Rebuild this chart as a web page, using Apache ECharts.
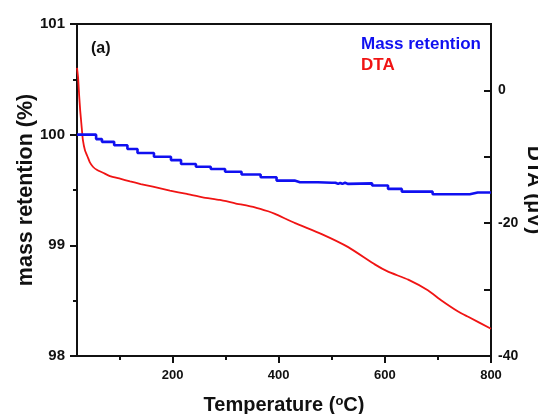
<!DOCTYPE html>
<html>
<head>
<meta charset="utf-8">
<script src="https://cdn.jsdelivr.net/npm/echarts@6/dist/echarts.min.js"></script>
<style>
html,body{margin:0;padding:0;background:#fff;}
#c{width:538px;height:414px;}
</style>
</head>
<body>
<div id="c"></div>
<script>
// ---- data ----
var massTemp = [20, 56, 67, 90, 115, 134, 165, 197, 216, 244, 272, 299, 330, 366, 396,
  430, 440, 443, 452, 455, 463, 466, 474, 477, 500, 503, 507, 512, 516, 520, 525, 530,
  576, 590, 593, 600, 603, 606, 615, 618, 622, 625, 632, 655, 657, 690, 700, 703, 710, 712,
  760, 775, 778, 785, 788, 800];
var massValue = [100.00, 99.96, 99.935, 99.905, 99.87, 99.835, 99.80, 99.77, 99.735, 99.71, 99.69, 99.665, 99.64, 99.615, 99.585,
  99.57, 99.555, 99.57, 99.555, 99.57, 99.555, 99.57, 99.555, 99.565, 99.555, 99.565, 99.555, 99.565, 99.555, 99.565, 99.555, 99.56,
  99.54, 99.55, 99.54, 99.55, 99.54, 99.51, 99.52, 99.51, 99.52, 99.51, 99.485, 99.495, 99.485, 99.462, 99.472, 99.462, 99.472, 99.462,
  99.477, 99.485, 99.477, 99.485, 99.477, 99.478];

var dtaTemp = [20, 22, 24, 26, 29, 31, 35, 41, 44, 50, 58, 69, 82, 101, 120, 140, 163, 195, 227, 257, 289, 318, 355, 380, 393,
  431, 480, 531, 581, 606, 644, 681, 706, 738, 757, 800];
var dtaValue = [3.4, 2.0, -0.7, -3.0, -5.7, -7.4, -9.0, -10.2, -10.8, -11.5, -12.0, -12.4, -12.9, -13.3, -13.7, -14.1, -14.5, -15.1, -15.6, -16.1, -16.5, -17.0, -17.6, -18.2, -18.6,
  -20.0, -21.6, -23.6, -26.2, -27.3, -28.5, -30.1, -31.6, -33.3, -34.1, -35.9];

var xMajorTicks = [200, 400, 600, 800];
var xMinorTicks = [100, 300, 500, 700];
var seriesNames = ['Mass retention', 'DTA'];

// ---- build ----
function pairs(xs, ys) { return xs.map(function (x, i) { return [x, ys[i]]; }); }

var FONT = "'Liberation Sans', Arial, sans-serif";
var INK = '#111';
var BLUE = '#1010f0';
var RED = '#f01414';

var chart = echarts.init(document.getElementById('c'), null, {renderer: 'canvas'});
chart.setOption({
  animation: false,
  backgroundColor: '#fff',
  textStyle: {fontFamily: FONT},
  grid: {left: 77, right: 47, top: 24, bottom: 58, show: true, borderColor: INK, borderWidth: 2,
    backgroundColor: 'transparent', containLabel: false, outerBoundsMode: 'none'},
  legend: {
    orient: 'vertical', left: 351, top: 31, itemGap: 4, itemWidth: 0, itemHeight: 0,
    selectedMode: false,
    data: [
      {name: seriesNames[0], icon: 'rect', textStyle: {color: BLUE}},
      {name: seriesNames[1], icon: 'rect', textStyle: {color: RED}}
    ],
    textStyle: {fontSize: 17, fontWeight: 'bold', fontFamily: FONT}
  },
  graphic: [{type: 'text', left: 91, top: 41, style: {text: '(a)', font: 'bold 16px ' + FONT, fill: INK}}],
  xAxis: [{
    type: 'value', min: 20, max: 800, position: 'bottom',
    axisLine: {onZero: false, lineStyle: {color: INK, width: 2}},
    axisTick: {customValues: xMajorTicks, length: 7, lineStyle: {color: INK, width: 2}},
    axisLabel: {customValues: xMajorTicks, fontSize: 13, fontWeight: 'bold', color: INK, margin: 13, fontFamily: FONT},
    splitLine: {show: false},
    name: 'Temperature ({sup|o}C)', nameLocation: 'middle', nameGap: 39,
    nameTextStyle: {fontSize: 20, fontWeight: 'bold', color: INK, fontFamily: FONT,
      rich: {sup: {fontSize: 13, fontWeight: 'bold', color: INK, fontFamily: FONT, verticalAlign: 'top', lineHeight: 12}}}
  }, {
    type: 'value', min: 20, max: 800, position: 'bottom',
    axisLine: {show: false, onZero: false},
    axisTick: {customValues: xMinorTicks, length: 4, lineStyle: {color: INK, width: 2}},
    axisLabel: {show: false},
    splitLine: {show: false}
  }],
  yAxis: [{
    type: 'value', min: 98, max: 101, interval: 1, position: 'left',
    axisLine: {show: true, onZero: false, lineStyle: {color: INK, width: 2}},
    axisTick: {show: true, length: 7, lineStyle: {color: INK, width: 2}},
    minorTick: {show: true, splitNumber: 2, length: 4, lineStyle: {color: INK, width: 2}},
    axisLabel: {fontSize: 15, fontWeight: 'bold', color: INK, margin: 12, fontFamily: FONT},
    splitLine: {show: false},
    name: 'mass retention (%)', nameLocation: 'middle', nameGap: 40, nameRotate: 90, nameMoveOverlap: false,
    nameTextStyle: {fontSize: 21.5, fontWeight: 'bold', color: INK, fontFamily: FONT}
  }, {
    type: 'value', min: -40, max: 10, interval: 10, position: 'right',
    axisLine: {show: true, onZero: false, lineStyle: {color: INK, width: 2}},
    axisTick: {show: true, inside: true, length: 7, lineStyle: {color: INK, width: 2}},
    axisLabel: {fontSize: 14, fontWeight: 'bold', color: INK, margin: 7, fontFamily: FONT,
      formatter: function (v) { return (v % 20 === 0) ? String(v) : ''; }},
    splitLine: {show: false},
    name: 'DTA (\u03bcV)', nameLocation: 'middle', nameGap: 32, nameRotate: -90, nameMoveOverlap: false,
    nameTextStyle: {fontSize: 21, fontWeight: 'bold', color: INK, fontFamily: FONT}
  }],
  series: [{
    name: seriesNames[1], type: 'line', xAxisIndex: 0, yAxisIndex: 1,
    data: pairs(dtaTemp, dtaValue), showSymbol: false, smooth: 0.15,
    color: RED, lineStyle: {color: RED, width: 1.8}, z: 2
  }, {
    name: seriesNames[0], type: 'line', xAxisIndex: 0, yAxisIndex: 0,
    data: pairs(massTemp, massValue), showSymbol: false, step: 'end',
    color: BLUE, lineStyle: {color: BLUE, width: 2.6}, z: 3
  }]
});
</script>
</body>
</html>
